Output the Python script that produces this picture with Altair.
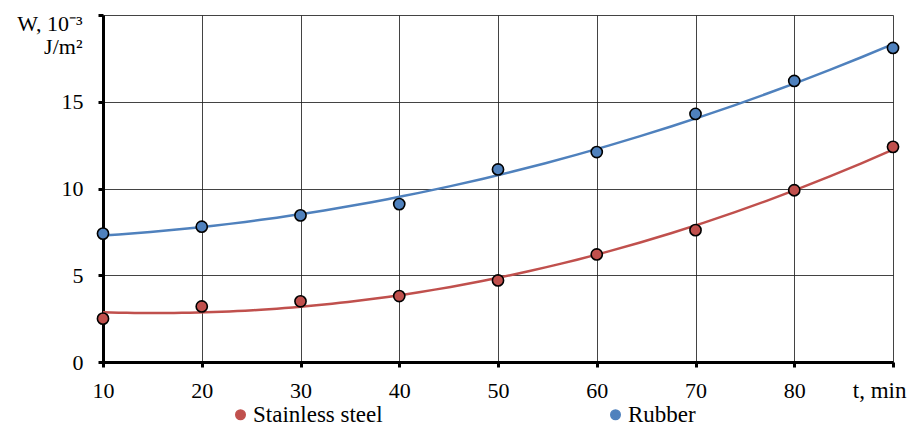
import altair as alt
import pandas as pd

t_values = [10, 20, 30, 40, 50, 60, 70, 80, 90]
stainless = [2.5, 3.2, 3.5, 3.8, 4.7, 6.2, 7.6, 9.9, 12.4]
rubber = [7.4, 7.8, 8.45, 9.1, 11.1, 12.1, 14.3, 16.2, 18.1]
series_names = ["Stainless steel", "Rubber"]
series_colors = ["#C0504D", "#4F81BD"]

rows = []
for name, vals in zip(series_names, [stainless, rubber]):
    for t, w in zip(t_values, vals):
        rows.append({"t": t, "W": w, "series": name})
df = pd.DataFrame(rows)

FONT = "Liberation Serif"

color = alt.Color(
    "series:N",
    scale=alt.Scale(domain=series_names, range=series_colors),
    sort=series_names,
    legend=alt.Legend(
        title=None,
        orient="none",
        legendX=126,
        legendY=388,
        direction="horizontal",
        columnPadding=221,
        symbolType="circle",
        symbolSize=90,
        symbolStrokeColor="black",
        symbolStrokeWidth=1.5,
        symbolOpacity=1,
        labelFont=FONT,
        labelFontSize=23,
        labelColor="black",
        labelOffset=1,
        labelLimit=300,
    ),
)

x = alt.X(
    "t:Q",
    scale=alt.Scale(domain=[10, 90], nice=False, zero=False),
    axis=alt.Axis(
        values=t_values,
        title="t, min",
        titleAngle=0,
        titleX=803,
        titleY=35,
        titleAlign="right",
        titleBaseline="alphabetic",
        titleFont=FONT,
        titleFontSize=23,
        titleFontWeight="normal",
        titleColor="black",
        labelExpr="datum.value == 90 ? '' : datum.label",
        labelFlush=False,
        labelFont=FONT,
        labelFontSize=22,
        labelColor="black",
        labelPadding=13,
        tickSize=5,
        tickWidth=3,
        tickColor="black",
        domainColor="black",
        domainWidth=3,
        grid=True,
        gridColor="#222222",
        gridWidth=1,
        gridOpacity=0.85,
    ),
)

y = alt.Y(
    "W:Q",
    scale=alt.Scale(domain=[0, 20], nice=False),
    axis=alt.Axis(
        values=[0, 5, 10, 15, 20],
        labelExpr="datum.value == 20 ? '' : datum.label",
        labelFlush=False,
        title=["W, 10⁻³", "J/m²"],
        titleAngle=0,
        titleAlign="right",
        titleBaseline="alphabetic",
        titleX=-21,
        titleY=15,
        titleLineHeight=23,
        titleFont=FONT,
        titleFontSize=22,
        titleFontWeight="normal",
        titleColor="black",
        labelFont=FONT,
        labelFontSize=22,
        labelColor="black",
        labelPadding=15,
        tickSize=5,
        tickWidth=3,
        tickColor="black",
        domainColor="black",
        domainWidth=3,
        grid=True,
        gridColor="#222222",
        gridWidth=1,
        gridOpacity=0.85,
    ),
)

base = alt.Chart(df)

lines = base.transform_regression(
    "t", "W", groupby=["series"], method="poly", order=2, extent=[10, 90]
).mark_line(strokeWidth=2.5).encode(x=x, y=y, color=color)

points = base.mark_point(
    filled=True, size=125, stroke="black", strokeWidth=1.6, opacity=1
).encode(x=x, y=y, color=color)

chart = (
    alt.layer(lines, points)
    .properties(
        width=790,
        height=347,
        autosize=alt.AutoSizeParams(type="none"),
        padding={"left": 95, "top": 7, "right": 14, "bottom": 64},
        background="white",
    )
    .configure_view(stroke=None)
)

chart.save("out.html", embed_options={"renderer": "svg", "actions": False})
